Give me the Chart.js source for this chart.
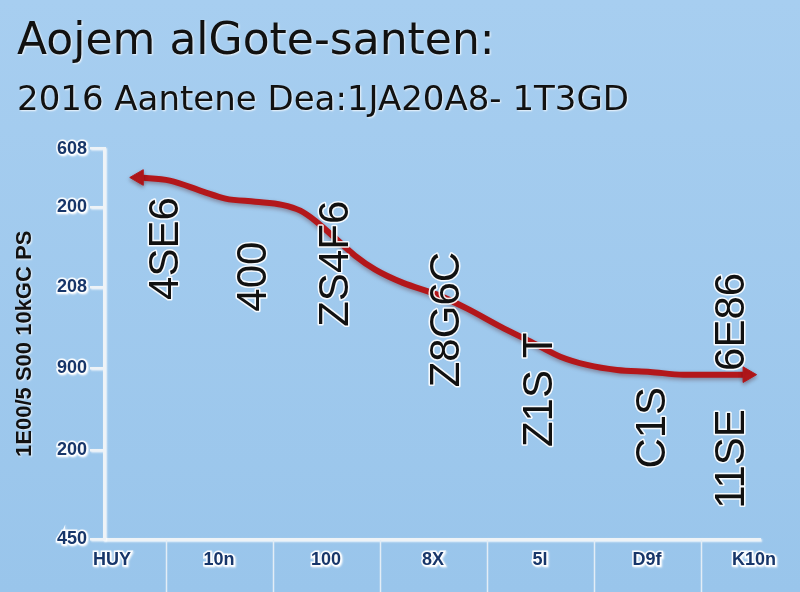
<!DOCTYPE html>
<html><head><meta charset="utf-8">
<script src="https://cdn.jsdelivr.net/npm/chart.js@4.4.1/dist/chart.umd.min.js"></script>
<style>
html,body{margin:0;padding:0;}
body{width:800px;height:592px;background:linear-gradient(#a7cef0,#99c5eb);overflow:hidden;}
#wrap{width:800px;height:592px;position:relative;}
canvas{display:block;}
</style></head><body>
<div id="wrap"><canvas id="c" width="800" height="592"></canvas></div>
<script>
const titleText = "Aojem alGote-santen:";
const subtitleText = "2016 Aantene Dea:1JA20A8- 1T3GD";
const yAxisTitle = "1E00/5 S00 10kGC PS";
const xTickLabels = ["HUY", "10n", "100", "8X", "5l", "D9f", "K10n"];
const yTickValues = [0, 22.8, 43.8, 64.6, 85.1, 100];
const yTickLabels = ["450", "200", "900", "208", "200", "608"];
const lineX = [0.25, 0.54, 0.85, 1.06, 1.34, 1.59, 1.76, 1.90, 2.08, 2.27, 2.46, 2.72, 3.04, 3.32, 3.63, 3.93, 4.19, 4.44, 4.72, 5.03, 5.34, 5.65, 5.94];
const lineY = [92.6, 91.8, 89.0, 87.2, 86.4, 85.6, 84.1, 81.5, 77.2, 72.6, 69.0, 65.6, 62.6, 59.0, 54.4, 50.3, 46.7, 44.6, 43.3, 42.8, 42.1, 42.1, 42.1];
const noteTexts = ["4SE6", "400", "ZS4F6", "Z8G6C", "Z1S T", "C1S", "11SE", "6E86"];
const noteX = [0.51, 1.33, 2.10, 3.13, 4.00, 5.06, 5.80, 5.80];
const noteY = [74.4, 67.2, 70.5, 56.2, 38.2, 28.5, 20.5, 55.6];

const NAVY = '#17366a';
const RED = '#b3171b';
const AXIS = '#eef3f7';
const n = lineX.length;

const textHalo = {
  id: 'textHalo',
  beforeDraw(chart) {
    const ctx = chart.ctx;
    ctx.shadowColor = 'rgba(255,255,255,0.85)';
    ctx.shadowBlur = 2;
    ctx.shadowOffsetX = 1;
    ctx.shadowOffsetY = 1;
  },
  beforeDatasetsDraw(chart) {
    const ctx = chart.ctx;
    ctx.shadowColor = 'rgba(0,0,0,0)';
    ctx.shadowBlur = 0;
    ctx.shadowOffsetX = 0;
    ctx.shadowOffsetY = 0;
  }
};

const lineShadow = {
  id: 'lineShadow',
  beforeDatasetDraw(chart) {
    const ctx = chart.ctx;
    ctx.save();
    ctx.shadowColor = 'rgba(70,0,0,0.35)';
    ctx.shadowBlur = 4;
    ctx.shadowOffsetY = 2;
  },
  afterDatasetDraw(chart) { chart.ctx.restore(); }
};

const bandLines = {
  id: 'bandLines',
  afterDraw(chart) {
    const ctx = chart.ctx, xs = chart.scales.x, bottom = chart.chartArea.bottom;
    ctx.save();
    ctx.shadowColor = 'rgba(0,0,0,0)';
    ctx.strokeStyle = '#e3edf6';
    ctx.lineWidth = 1.5;
    for (let i = 0; i < xTickLabels.length - 1; i++) {
      const px = Math.round(xs.getPixelForValue(i + 0.5)) + 0.5;
      ctx.beginPath();
      ctx.moveTo(px, bottom + 1);
      ctx.lineTo(px, chart.height);
      ctx.stroke();
    }
    ctx.restore();
  }
};

const notes = {
  id: 'notes',
  afterDatasetsDraw(chart) {
    const ctx = chart.ctx, xs = chart.scales.x, ys = chart.scales.y;
    ctx.save();
    ctx.shadowColor = 'rgba(0,0,0,0)';
    ctx.font = '42px "Liberation Sans", Arial, sans-serif';
    ctx.textAlign = 'center';
    ctx.textBaseline = 'middle';
    ctx.lineJoin = 'round';
    noteTexts.forEach((t, i) => {
      const px = xs.getPixelForValue(noteX[i]);
      const py = ys.getPixelForValue(noteY[i]);
      ctx.save();
      ctx.translate(px, py);
      ctx.rotate(-Math.PI / 2);
      ctx.strokeStyle = 'rgba(255,255,255,0.9)';
      ctx.lineWidth = 3;
      ctx.strokeText(t, 0, 0);
      ctx.fillStyle = '#111111';
      ctx.fillText(t, 0, 0);
      ctx.restore();
    });
    ctx.restore();
  }
};

new Chart(document.getElementById('c'), {
  type: 'line',
  data: {
    datasets: [{
      data: lineX.map((x, i) => ({ x: x, y: lineY[i] })),
      borderColor: RED,
      borderWidth: 6,
      cubicInterpolationMode: 'monotone',
      fill: false,
      pointStyle: 'triangle',
      pointRadius: c => (c.dataIndex === 0 || c.dataIndex === n - 1) ? 9 : 0,
      pointHoverRadius: c => (c.dataIndex === 0 || c.dataIndex === n - 1) ? 9 : 0,
      pointRotation: c => c.dataIndex === 0 ? -90 : 90,
      pointBackgroundColor: RED,
      pointBorderColor: RED,
      pointBorderWidth: 1
    }]
  },
  options: {
    responsive: false,
    devicePixelRatio: 1,
    animation: false,
    layout: { padding: { left: 17, right: 40, top: 0, bottom: 0 } },
    plugins: {
      legend: { display: false },
      tooltip: { enabled: false },
      title: {
        display: true, text: titleText, align: 'start', color: '#111111',
        font: { family: '"DejaVu Sans", sans-serif', size: 44, weight: 'normal', lineHeight: 1.2 },
        padding: { top: 16, bottom: 0 }
      },
      subtitle: {
        display: true, text: subtitleText, align: 'start', color: '#111111',
        font: { family: '"DejaVu Sans", sans-serif', size: 34, weight: 'normal', lineHeight: 1.2 },
        padding: { top: 12, bottom: 27 }
      }
    },
    scales: {
      x: {
        type: 'linear', min: -0.075, max: 6.056,
        afterBuildTicks: s => { s.ticks = xTickLabels.map((_, i) => ({ value: i })); },
        afterFit: s => { s.height = 53; },
        ticks: {
          callback: (v, i) => xTickLabels[i], autoSkip: false, maxRotation: 0,
          color: NAVY, padding: 10,
          font: { family: '"Liberation Sans", Arial, sans-serif', size: 18, weight: 'bold' },
          textStrokeColor: 'rgba(255,255,255,0.9)', textStrokeWidth: 3
        },
        grid: { drawOnChartArea: false, drawTicks: false },
        border: { color: AXIS, width: 3 }
      },
      y: {
        type: 'linear', min: 0, max: 100,
        afterBuildTicks: s => { s.ticks = yTickValues.map(v => ({ value: v })); },
        afterFit: s => { s.width = 87; },
        ticks: {
          callback: (v, i) => yTickLabels[i], autoSkip: false,
          color: NAVY, padding: 3,
          font: { family: '"Liberation Sans", Arial, sans-serif', size: 18, weight: 'bold' },
          textStrokeColor: 'rgba(255,255,255,0.9)', textStrokeWidth: 3
        },
        grid: { drawOnChartArea: false, drawTicks: true, tickLength: 14, color: AXIS, lineWidth: 2.5 },
        border: { color: AXIS, width: 3 },
        title: {
          display: true, text: yAxisTitle, color: '#111111', padding: 0,
          font: { family: '"Liberation Sans", Arial, sans-serif', size: 22, weight: 'bold', lineHeight: 0.72 }
        }
      }
    }
  },
  plugins: [textHalo, lineShadow, bandLines, notes]
});
</script>
</body></html>
